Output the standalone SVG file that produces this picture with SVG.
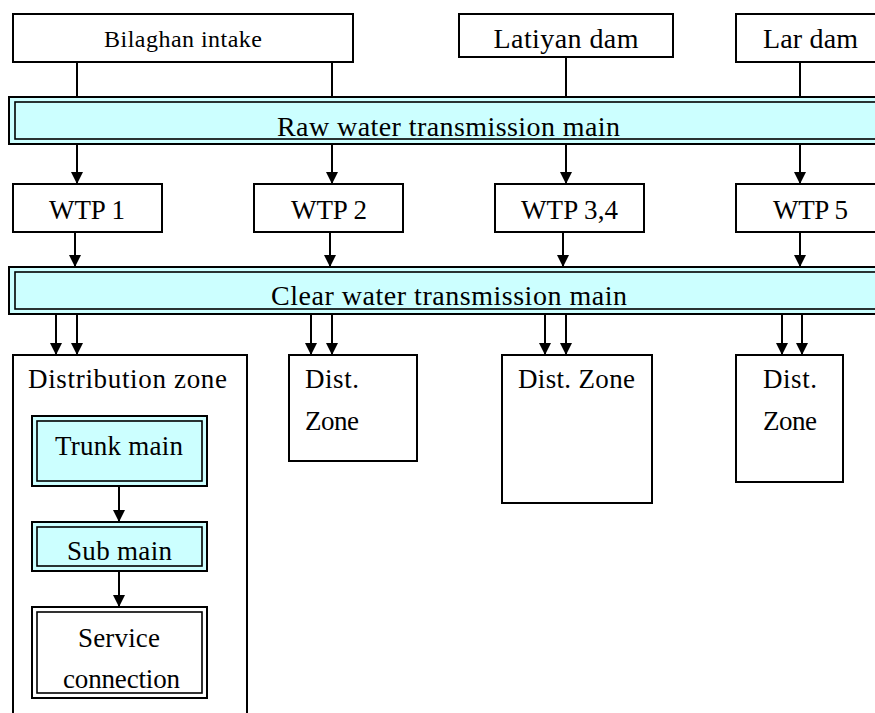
<svg xmlns="http://www.w3.org/2000/svg" width="875" height="713" viewBox="0 0 875 713">
<style>
.box{fill:#fff;stroke:#000;stroke-width:2}
.band{fill:#CCFFFF;stroke:#000;stroke-width:2}
.band2{fill:#CCFFFF;stroke:#000;stroke-width:1.6}
.in2{fill:#fff;stroke:#000;stroke-width:1.6}
text{font-family:"Liberation Serif","Times New Roman",serif;fill:#000}
.t{font-size:27px;text-anchor:middle}
.tb{font-size:28px;text-anchor:middle}
.tl{font-size:27px}
.s{font-size:24px;text-anchor:middle}
.ln{stroke:#000;stroke-width:2;fill:none}
.ar{stroke:#000;stroke-width:2;fill:none;marker-end:url(#ah)}
</style>
<defs>
<marker id="ah" markerUnits="userSpaceOnUse" markerWidth="14" markerHeight="14" refX="12" refY="6" orient="auto">
<path d="M0,0 L12,6 L0,12 Z" fill="#000"/>
</marker>
</defs>
<rect width="875" height="713" fill="#fff"/>

<g id="bilaghan">
<rect class="box" x="13" y="14" width="340" height="48"/>
<text class="s" x="183" y="47" textLength="158">Bilaghan intake</text>
</g>
<g id="latiyan">
<rect class="box" x="459" y="14" width="214" height="43"/>
<text class="tb" x="566" y="48" textLength="145">Latiyan dam</text>
</g>
<g id="lar">
<rect class="box" x="736" y="14" width="150" height="48"/>
<text class="tb" x="810.5" y="48" textLength="95">Lar dam</text>
</g>

<g id="raw-main">
<rect class="band" x="9" y="97" width="880" height="47"/>
<rect class="band2" x="15" y="102" width="870" height="37"/>
<text class="tb" x="448.5" y="136" textLength="343">Raw water transmission main</text>
</g>

<g id="wtp1">
<rect class="box" x="13" y="184" width="149" height="48"/>
<text class="t" x="87" y="219" textLength="76">WTP 1</text>
</g>
<g id="wtp2">
<rect class="box" x="254" y="184" width="149" height="48"/>
<text class="t" x="329" y="219" textLength="76">WTP 2</text>
</g>
<g id="wtp34">
<rect class="box" x="495" y="184" width="149" height="48"/>
<text class="t" x="569.5" y="219" textLength="97">WTP 3,4</text>
</g>
<g id="wtp5">
<rect class="box" x="736" y="184" width="150" height="48"/>
<text class="t" x="810.5" y="219" textLength="75">WTP 5</text>
</g>

<g id="clear-main">
<rect class="band" x="9" y="267" width="880" height="47"/>
<rect class="band2" x="15" y="272" width="870" height="37"/>
<text class="tb" x="449" y="305" textLength="356">Clear water transmission main</text>
</g>

<g id="dist-zone-1">
<rect class="box" x="13" y="355" width="234" height="370"/>
<text class="t" x="127.5" y="388" textLength="199">Distribution zone</text>
</g>
<g id="trunk-main">
<rect class="band" x="32" y="416" width="175" height="70"/>
<rect class="band2" x="37" y="421" width="165" height="60"/>
<text class="t" x="119" y="455" textLength="128">Trunk main</text>
</g>
<g id="sub-main">
<rect class="band" x="32" y="522" width="175" height="49"/>
<rect class="band2" x="37" y="527" width="165" height="39"/>
<text class="t" x="119.5" y="560" textLength="105">Sub main</text>
</g>
<g id="service-connection">
<rect class="box" x="32" y="607" width="175" height="91"/>
<rect class="in2" x="37" y="612" width="165" height="81"/>
<text class="t" x="119" y="647" textLength="82">Service</text>
<text class="t" x="121.5" y="688" textLength="117">connection</text>
</g>

<g id="dist-zone-2">
<rect class="box" x="289" y="355" width="128" height="106"/>
<text class="tl" x="305" y="388" textLength="54">Dist.</text>
<text class="tl" x="305" y="430" textLength="54">Zone</text>
</g>
<g id="dist-zone-3">
<rect class="box" x="502" y="355" width="150" height="148"/>
<text class="tl" x="518" y="388" textLength="117">Dist. Zone</text>
</g>
<g id="dist-zone-4">
<rect class="box" x="736" y="355" width="107" height="127"/>
<text class="tl" x="763" y="388" textLength="54">Dist.</text>
<text class="tl" x="763" y="430" textLength="54">Zone</text>
</g>

<g id="connectors">
<line class="ln" x1="77" y1="62" x2="77" y2="97"/>
<line class="ln" x1="332" y1="62" x2="332" y2="97"/>
<line class="ln" x1="566" y1="57" x2="566" y2="97"/>
<line class="ln" x1="800" y1="62" x2="800" y2="97"/>

<line class="ar" x1="77" y1="144" x2="77" y2="184"/>
<line class="ar" x1="332" y1="144" x2="332" y2="184"/>
<line class="ar" x1="566" y1="144" x2="566" y2="184"/>
<line class="ar" x1="800" y1="144" x2="800" y2="184"/>

<line class="ar" x1="75" y1="232" x2="75" y2="267"/>
<line class="ar" x1="330" y1="232" x2="330" y2="267"/>
<line class="ar" x1="563" y1="232" x2="563" y2="267"/>
<line class="ar" x1="800" y1="232" x2="800" y2="267"/>

<line class="ar" x1="56" y1="314" x2="56" y2="355"/>
<line class="ar" x1="77" y1="314" x2="77" y2="355"/>
<line class="ar" x1="311" y1="314" x2="311" y2="355"/>
<line class="ar" x1="332" y1="314" x2="332" y2="355"/>
<line class="ar" x1="545" y1="314" x2="545" y2="355"/>
<line class="ar" x1="566" y1="314" x2="566" y2="355"/>
<line class="ar" x1="782" y1="314" x2="782" y2="355"/>
<line class="ar" x1="802" y1="314" x2="802" y2="355"/>

<line class="ar" x1="119" y1="486" x2="119" y2="522"/>
<line class="ar" x1="119" y1="571" x2="119" y2="607"/>
</g>
</svg>
